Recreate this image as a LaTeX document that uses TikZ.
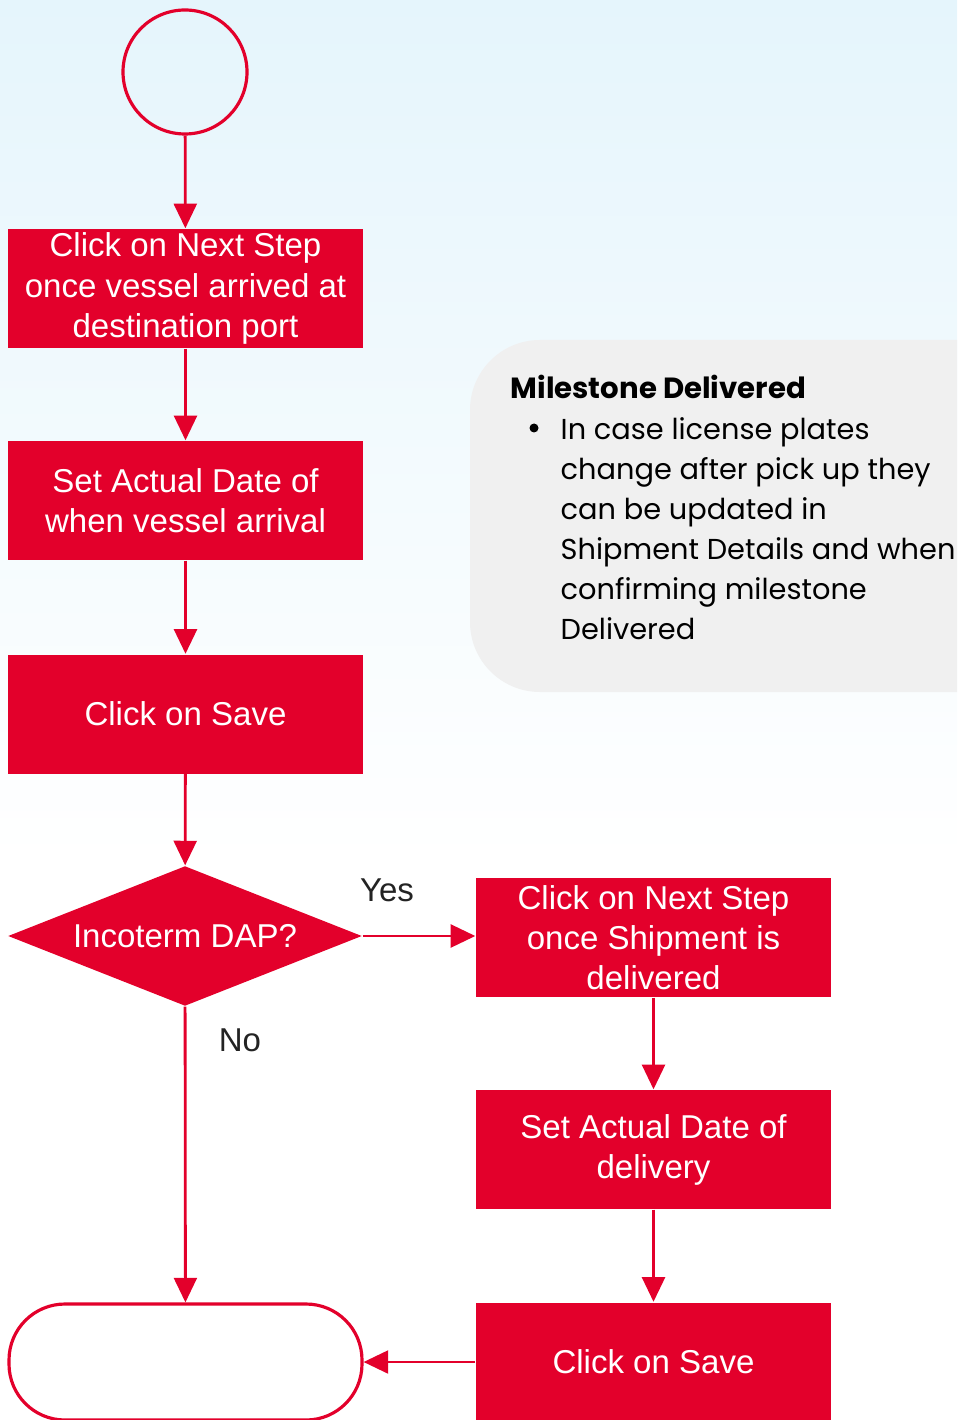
\documentclass[tikz,border=0pt]{standalone}
\usepackage{fontspec}
\setmainfont{Liberation Sans}
\newfontfamily\notefont{Poppins}
\usetikzlibrary{arrows.meta,positioning,shapes.geometric}

\definecolor{flowred}{RGB}{227,0,43}
\definecolor{skyblue}{RGB}{229,245,252}
\definecolor{notegray}{RGB}{240,240,240}
\definecolor{labelgray}{RGB}{35,35,35}

\tikzset{
  procbox/.style={rectangle, fill=flowred, text=white, minimum width=35.5mm,
    minimum height=11.9mm, inner sep=0pt, align=center,
    font=\fontsize{9.4}{11.4}\selectfont},
  decision/.style={diamond, fill=flowred, text=white, inner sep=0pt, aspect=2.5,
    minimum width=35.4mm, minimum height=14mm, font=\fontsize{9.4}{11.4}\selectfont},
  startnode/.style={circle, draw=flowred, line width=0.9pt, minimum size=12.4mm, inner sep=0pt},
  endnode/.style={rectangle, rounded corners=5.6mm, draw=flowred, fill=white, line width=0.9pt,
    minimum width=35.3mm, minimum height=11.6mm},
  flowarrow/.style={draw=flowred, line width=0.8pt, -{Triangle[length=7pt,width=6.5pt]}},
  branchlabel/.style={text=labelgray, font=\fontsize{9.4}{11.4}\selectfont},
}

\begin{document}
\begin{tikzpicture}[x=0.1mm, y=-0.1mm]
    \useasboundingbox (0,0) rectangle (957,1420);
    \clip (0,0) rectangle (957,1420);

    % Background
    \fill[white] (0,0) rectangle (957,1420);
    \shade[top color=skyblue, bottom color=white] (0,0) rectangle (957,860);

    % Note on the right
    \fill[notegray, rounded corners=7mm] (470,340) rectangle (1040,692);
    \node[anchor=west, inner sep=0pt, font=\notefont\bfseries\fontsize{8.3}{11.4}\selectfont] (notetitle) at (510,387) {Milestone Delivered};
    \node[circle, fill=black, inner sep=0pt, minimum size=0.9mm] (notedot) at (534,428) {};
    \node[anchor=north west, inner sep=0pt, align=left,
          font=\notefont\fontsize{8.2}{11.4}\selectfont] (notebody) at (560,417)
      {In case license plates\\change after pick up they\\can be updated in\\Shipment Details and when\\confirming milestone\\Delivered};

    % Left column
    \node[startnode] (start) at (185,72) {};
    \node[procbox] (nextport) at (185.5,288.5) {Click on Next Step\\once vessel arrived at\\destination port};
    \node[procbox] (arrival) at (185.5,500.5) {Set Actual Date of\\when vessel arrival};
    \node[procbox] (saveone) at (185.5,714) {Click on Save};
    \node[decision] (dap) at (185,936) {Incoterm DAP?};
    \node[endnode] (finish) at (185.5,1362) {};

    % Right column
    \node[procbox] (nextdeliv) at (653.5,937.5) {Click on Next Step\\once Shipment is\\delivered};
    \node[procbox] (delivdate) at (653.5,1149.5) {Set Actual Date of\\delivery};
    \node[procbox] (savetwo) at (653.5,1362) {Click on Save};

    % Connectors
    \draw[flowarrow] (start) -- (nextport);
    \draw[flowarrow] (nextport) -- (arrival);
    \draw[flowarrow] (arrival) -- (saveone);
    \draw[flowarrow] (saveone) -- (dap);
    \draw[flowarrow] (dap.east) -- (nextdeliv.west |- dap.east);
    \draw[flowarrow] (dap) -- (finish);
    \draw[flowarrow] (nextdeliv) -- (delivdate);
    \draw[flowarrow] (delivdate) -- (savetwo);
    \draw[flowarrow] (savetwo) -- (finish);

    \node[branchlabel] (yes) at (387,890) {Yes};
    \node[branchlabel] (no) at (240,1040) {No};
\end{tikzpicture}
\end{document}
